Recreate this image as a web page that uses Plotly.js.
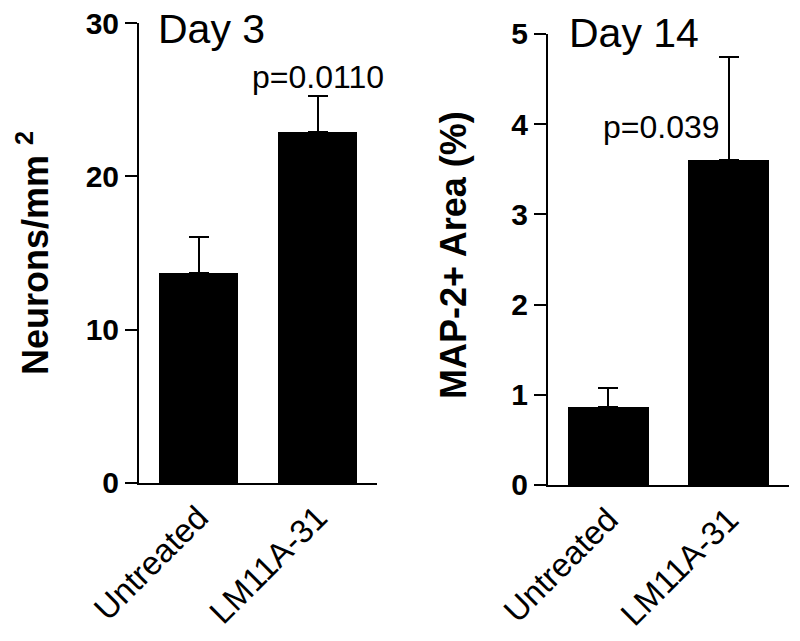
<!DOCTYPE html>
<html>
<head>
<meta charset="utf-8">
<script src="https://cdn.plot.ly/plotly-3.0.1.min.js"></script>
<style>
  html, body { margin: 0; padding: 0; background: #fff; }
  #graph { width: 800px; height: 641px; }
</style>
</head>
<body>
<div id="graph"></div>
<script>
// groups on the x axis (same for both panels)
const groups = ['Untreated', 'LM11A-31'];

// Day 3 - neurons per mm2
const day3Mean = [13.7, 22.9];
const day3Err = [2.35, 2.35];

// Day 14 - MAP-2+ area (%)
const day14Mean = [0.865, 3.6];
const day14Err = [0.21, 1.145];

const pDay3 = 'p=0.0110';
const pDay14 = 'p=0.039';

const fnt = 'Liberation Sans, Arial, Helvetica, sans-serif';

function barTrace(y, err, xa, ya) {
    return {
        type: 'bar',
        x: groups,
        y: y,
        xaxis: xa,
        yaxis: ya,
        width: 0.67,
        marker: { color: '#000', line: { width: 0 } },
        error_y: { type: 'data', array: err, arrayminus: err.map(() => 0), symmetric: false, color: '#000', thickness: 2, width: 10 },
        showlegend: false,
        hoverinfo: 'none'
    };
}

var data = [
    barTrace(day3Mean, day3Err, 'x', 'y'),
    barTrace(day14Mean, day14Err, 'x2', 'y2')
];

function xAxis(domain, anchor) {
    return {
        domain: domain,
        anchor: anchor,
        type: 'category',
        range: [-0.5, 1.5],
        showline: true, linecolor: '#000', linewidth: 2,
        ticks: '', showgrid: false, zeroline: false,
        tickangle: -45,
        tickfont: { family: fnt, size: 33, color: '#000' }
    };
}

function yAxis(domain, anchor, top, step) {
    return {
        domain: domain,
        anchor: anchor,
        range: [0, top],
        dtick: step,
        tick0: 0,
        showline: true, linecolor: '#000', linewidth: 2,
        ticks: 'outside', ticklen: 12, tickwidth: 2, tickcolor: '#000',
        showgrid: false, zeroline: false,
        ticklabelstandoff: 0,
        tickfont: { family: 'Liberation Sans', size: 30, color: '#000', weight: 700 }
    };
}

var layout = {
    width: 800,
    height: 641,
    margin: { l: 0, r: 0, t: 0, b: 0 },
    paper_bgcolor: '#fff',
    plot_bgcolor: 'rgba(0,0,0,0)',
    bargap: 0,
    xaxis: xAxis([0.17375, 0.47125], 'y'),
    yaxis: yAxis([0.2465, 0.9641], 'x', 30, 10),
    xaxis2: xAxis([0.685, 0.98625], 'y2'),
    yaxis2: yAxis([0.2434, 0.947], 'x2', 5, 1),
    annotations: [
        { xref: 'paper', yref: 'paper', x: 211 / 800, y: 1 - 29 / 641, text: 'Day 3', showarrow: false,
          font: { family: fnt, size: 41, color: '#000' }, xanchor: 'center', yanchor: 'middle' },
        { xref: 'paper', yref: 'paper', x: 634 / 800, y: 1 - 33 / 641, text: 'Day 14', showarrow: false,
          font: { family: fnt, size: 41, color: '#000' }, xanchor: 'center', yanchor: 'middle' },
        { xref: 'x', yref: 'y', x: 1, y: 26.5, text: pDay3, showarrow: false,
          font: { family: fnt, size: 32, color: '#000' }, xanchor: 'center', yanchor: 'middle' },
        { xref: 'x2', yref: 'y2', x: 0.44, y: 3.97, text: pDay14, showarrow: false,
          font: { family: fnt, size: 32, color: '#000' }, xanchor: 'center', yanchor: 'middle' },
        { xref: 'paper', yref: 'paper', x: 33 / 800, y: 1 - 253 / 641, text: 'Neurons/mm <sup>2</sup>', showarrow: false,
          textangle: -90, font: { family: 'Liberation Sans', size: 36, color: '#000', weight: 700 }, xanchor: 'center', yanchor: 'middle' },
        { xref: 'paper', yref: 'paper', x: 453 / 800, y: 1 - 255 / 641, text: 'MAP-2+ Area (%)', showarrow: false,
          textangle: -90, font: { family: 'Liberation Sans', size: 36, color: '#000', weight: 700 }, xanchor: 'center', yanchor: 'middle' }
    ]
};

Plotly.newPlot('graph', data, layout, { staticPlot: true });
</script>
</body>
</html>
